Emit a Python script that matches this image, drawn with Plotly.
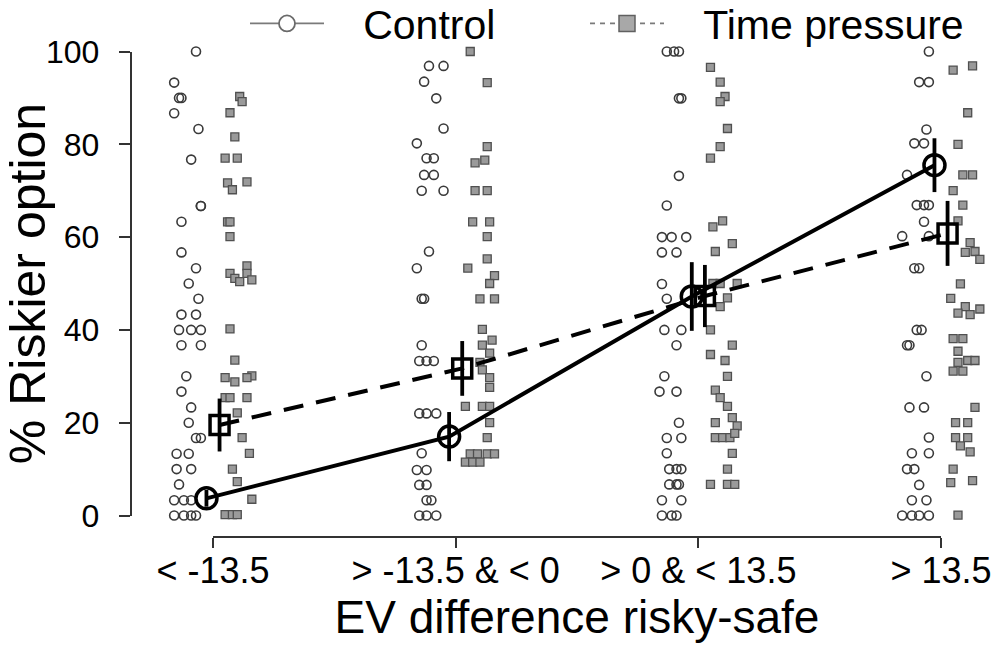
import plotly.graph_objects as go

categories = ["< -13.5", "> -13.5 & < 0", "> 0 & < 13.5", "> 13.5"]

# Individual participant values (% riskier choices) and horizontal jitter (category units)
ctrl_vals = [
    [100, 93.3, 90, 90, 86.7, 83.3, 76.7, 66.7, 66.7, 63.3, 56.7, 53.3, 50, 46.7, 43.3, 43.3,
     40, 40, 40, 36.7, 36.7, 30, 26.7, 23.3, 20, 16.7, 16.7, 13.3, 13.3, 10, 10, 6.7, 3.3, 3.3,
     3.3, 0, 0, 0, 0],
    [96.9, 96.9, 93.5, 89.9, 83.4, 80.2, 77, 77, 73.4, 73.4, 70, 70, 56.9, 53.3, 46.7, 46.7,
     36.7, 33.3, 33.3, 33.3, 22, 22, 22, 13.4, 9.8, 9.8, 6.6, 6.6, 3.3, 3.3, 0, 0, 0],
    [100, 100, 100, 89.9, 89.9, 73.2, 66.8, 60, 60, 60, 56.7, 56.7, 49.9, 46.7, 40, 40, 36.7,
     30, 26.7, 26.7, 20, 16.7, 16.7, 13.4, 10, 10, 10, 6.7, 6.7, 6.7, 3.3, 3.3, 0, 0, 0],
    [100, 93.4, 93.4, 83.2, 80.2, 80.2, 73.4, 66.9, 66.9, 66.9, 63.3, 60.2, 60.2, 53.3, 53.3,
     40, 40, 36.7, 36.7, 30, 23.3, 23.3, 16.8, 13.4, 13.4, 10, 10, 6.6, 3.3, 3.3, 0, 0, 0, 0],
]
ctrl_jit = [
    [-0.07, -0.16, -0.14, -0.13, -0.16, -0.06, -0.09, -0.05, -0.05, -0.13, -0.13, -0.07, -0.10,
     -0.06, -0.13, -0.07, -0.14, -0.09, -0.05, -0.13, -0.05, -0.11, -0.13, -0.09, -0.10, -0.07,
     -0.05, -0.15, -0.10, -0.15, -0.09, -0.14, -0.16, -0.12, -0.09, -0.16, -0.12, -0.07, -0.09],
    [-0.11, -0.05, -0.13, -0.08, -0.05, -0.16, -0.12, -0.09, -0.13, -0.09, -0.14, -0.05, -0.11,
     -0.16, -0.14, -0.13, -0.14, -0.15, -0.12, -0.09, -0.15, -0.12, -0.08, -0.14, -0.16, -0.12,
     -0.15, -0.12, -0.12, -0.10, -0.15, -0.12, -0.08],
    [-0.13, -0.10, -0.08, -0.08, -0.07, -0.08, -0.13, -0.15, -0.11, -0.05, -0.15, -0.09, -0.15,
     -0.13, -0.14, -0.07, -0.09, -0.14, -0.16, -0.09, -0.08, -0.13, -0.07, -0.13, -0.12, -0.09,
     -0.07, -0.12, -0.09, -0.08, -0.15, -0.07, -0.15, -0.11, -0.09],
    [-0.05, -0.09, -0.05, -0.06, -0.11, -0.07, -0.14, -0.10, -0.07, -0.05, -0.07, -0.16, -0.05,
     -0.11, -0.09, -0.10, -0.08, -0.14, -0.13, -0.06, -0.13, -0.07, -0.05, -0.12, -0.05, -0.14,
     -0.11, -0.09, -0.12, -0.06, -0.16, -0.12, -0.09, -0.05],
]
tp_vals = [
    [90.3, 89.2, 86.8, 81.6, 77, 77, 71.7, 70.2, 71.9, 63.3, 63.3, 60.1, 53.8, 52.2, 51.1,
     52.2, 50.8, 50.4, 40.2, 33.5, 30.1, 29.7, 28.8, 29.7, 25.4, 25.4, 25.4, 22.1, 16.8, 13.4,
     10, 7.3, 3.5, 0.2, 0.2, 0.2],
    [100, 93.3, 79.5, 76, 76.6, 70, 70, 63.3, 63.3, 60.1, 55.3, 53.3, 51.7, 50, 46.7, 46.7,
     40.1, 37.8, 36.7, 35, 33, 31.4, 29.7, 27.6, 23.5, 23.5, 23.5, 20, 16.8, 13.3, 13.3, 13.3,
     13.3, 11.5, 11.5, 11.5],
    [96.6, 93.4, 90.3, 89.2, 83.4, 79.5, 77, 63.5, 62.2, 58.6, 56.9, 50, 50, 50, 46.9, 45, 40,
     36.7, 34.7, 33.4, 30, 27, 25.4, 23.5, 20, 21.1, 19.3, 16.8, 16.8, 16.8, 17.7, 13.4, 10,
     6.7, 6.7, 6.7],
    [96, 96.9, 86.8, 80, 73.4, 73.4, 70, 66.9, 63.5, 58.8, 56.7, 56.9, 55.2, 49.9, 46.8, 45,
     43.6, 43.3, 44.5, 38.1, 38.1, 35.4, 33.4, 33.4, 33, 31.1, 31.1, 23.3, 20, 20, 16.8, 16.8,
     15, 13.7, 10, 7.1, 7.5, 0.1],
]
tp_jit = [
    [0.11, 0.12, 0.07, 0.09, 0.05, 0.10, 0.06, 0.08, 0.14, 0.06, 0.07, 0.07, 0.14, 0.07, 0.09,
     0.14, 0.16, 0.11, 0.07, 0.09, 0.16, 0.05, 0.09, 0.14, 0.05, 0.07, 0.14, 0.10, 0.12, 0.15,
     0.08, 0.10, 0.16, 0.05, 0.08, 0.10],
    [0.06, 0.13, 0.13, 0.08, 0.12, 0.08, 0.13, 0.07, 0.14, 0.13, 0.13, 0.05, 0.16, 0.14, 0.10,
     0.16, 0.11, 0.15, 0.11, 0.14, 0.10, 0.11, 0.14, 0.14, 0.04, 0.11, 0.14, 0.14, 0.13, 0.06,
     0.09, 0.13, 0.16, 0.04, 0.07, 0.10],
    [0.05, 0.09, 0.11, 0.09, 0.12, 0.09, 0.05, 0.10, 0.06, 0.14, 0.07, 0.06, 0.09, 0.16, 0.12,
     0.09, 0.05, 0.14, 0.05, 0.11, 0.12, 0.07, 0.09, 0.12, 0.07, 0.14, 0.16, 0.07, 0.10, 0.13,
     0.15, 0.14, 0.12, 0.05, 0.12, 0.15],
    [0.05, 0.13, 0.11, 0.07, 0.09, 0.13, 0.05, 0.09, 0.07, 0.12, 0.10, 0.14, 0.16, 0.08, 0.04,
     0.10, 0.07, 0.12, 0.16, 0.05, 0.09, 0.07, 0.11, 0.14, 0.07, 0.05, 0.09, 0.14, 0.06, 0.11,
     0.06, 0.11, 0.08, 0.12, 0.05, 0.04, 0.13, 0.07],
]

ctrl_mean = [3.7, 17.0, 47.2, 75.5]
ctrl_err = [1.8, 5.3, 7.4, 5.8]
tp_mean = [19.5, 31.7, 47.3, 60.8]
tp_err = [5.7, 5.9, 6.7, 7.0]

legend_names = ["Control", "Time pressure"]

FONT = "Liberation Sans, Arial, sans-serif"
W, H = 994, 648
dodge = 0.027
PAD = "\u00a0\u00a0\u00a0"  # visual gap between legend symbol and its label

fig = go.Figure()

# individual points
cx, cy, tx, ty = [], [], [], []
for i in range(4):
    cx += [i + 1 + j for j in ctrl_jit[i]]
    cy += ctrl_vals[i]
    tx += [i + 1 + j for j in tp_jit[i]]
    ty += tp_vals[i]

fig.add_trace(go.Scatter(x=cx, y=cy, mode="markers", showlegend=False, cliponaxis=False,
                         marker=dict(symbol="circle-open", size=9, color="#3a3a3a",
                                     line=dict(width=1.6, color="#3a3a3a"))))
fig.add_trace(go.Scatter(x=tx, y=ty, mode="markers", showlegend=False, cliponaxis=False,
                         marker=dict(symbol="square", size=8, color="#9a9a9a",
                                     line=dict(width=1.3, color="#505050"))))

xs = [1, 2, 3, 4]
fig.add_trace(go.Scatter(x=[v + dodge for v in xs], y=tp_mean, mode="lines+markers",
                         showlegend=False, cliponaxis=False,
                         line=dict(color="black", width=4, dash="20px,13px"),
                         marker=dict(symbol="square-open", size=19, color="black",
                                     line=dict(width=3.5, color="black")),
                         error_y=dict(type="data", array=tp_err, width=0, thickness=3.8,
                                      color="black")))
fig.add_trace(go.Scatter(x=[v - dodge for v in xs], y=ctrl_mean, mode="lines+markers",
                         showlegend=False, cliponaxis=False,
                         line=dict(color="black", width=4),
                         marker=dict(symbol="circle-open", size=21, color="black",
                                     line=dict(width=3.5, color="black")),
                         error_y=dict(type="data", array=ctrl_err, width=0, thickness=3.8,
                                      color="black")))

# legend-only entries (each in its own legend box)
fig.add_trace(go.Scatter(x=[None], y=[None], mode="lines+markers", name=PAD + legend_names[0],
                         legend="legend",
                         line=dict(color="#7a7a7a", width=1.8),
                         marker=dict(symbol="circle", size=20, color="white",
                                     line=dict(width=1.8, color="#6a6a6a"))))
fig.add_trace(go.Scatter(x=[None], y=[None], mode="lines+markers", name=PAD + legend_names[1],
                         legend="legend2",
                         line=dict(color="#7a7a7a", width=1.8, dash="5px,5px"),
                         marker=dict(symbol="square", size=20, color="#a8a8a8",
                                     line=dict(width=1.5, color="#606060"))))

# empty trace to host the visible R-style axes
fig.add_trace(go.Scatter(x=[], y=[], xaxis="x2", yaxis="y2", showlegend=False))

px0, px_per = 213.0, 242.67   # pixel position of category 1 and pixels per category
y0px, ypx_per = 515.5, 4.64   # pixel position of 0 % and pixels per %

legend_common = dict(orientation="h", xanchor="left", y=1.015, yanchor="top",
                     font=dict(size=41), itemwidth=74, bgcolor="rgba(0,0,0,0)")

fig.update_layout(
    width=W, height=H,
    margin=dict(l=0, r=0, t=0, b=0, autoexpand=False),
    paper_bgcolor="white", plot_bgcolor="rgba(0,0,0,0)",
    font=dict(family=FONT, color="black"),
    xaxis=dict(domain=[0, 1], range=[1 - px0 / px_per, 1 + (W - px0) / px_per],
               visible=False, fixedrange=True),
    yaxis=dict(domain=[0, 1], range=[(y0px - H) / ypx_per, y0px / ypx_per],
               visible=False, fixedrange=True),
    xaxis2=dict(domain=[px0 / W, (px0 + 3 * px_per) / W], range=[1, 4],
                anchor="free", position=(H - 537) / H,
                tickmode="array", tickvals=xs, ticktext=categories,
                showline=True, linecolor="#333", linewidth=1.5,
                ticks="outside", ticklen=10, tickwidth=1.5, tickcolor="#333",
                showgrid=False, zeroline=False, tickfont=dict(size=36),
                ticklabelstandoff=-8,
                title=dict(text="EV difference risky-safe", font=dict(size=46), standoff=8)),
    yaxis2=dict(domain=[(H - y0px) / H, (H - (y0px - 100 * ypx_per)) / H], range=[0, 100],
                anchor="free", position=130.5 / W,
                tickmode="array", tickvals=[0, 20, 40, 60, 80, 100],
                showline=True, linecolor="#333", linewidth=1.5,
                ticks="outside", ticklen=11, tickwidth=1.5, tickcolor="#333",
                showgrid=False, zeroline=False, tickfont=dict(size=32),
                ticklabelstandoff=13,
                title=dict(text="% Riskier option", font=dict(size=50), standoff=6)),
    legend=dict(x=245 / W, **legend_common),
    legend2=dict(x=585 / W, **legend_common),
)

fig.write_html("out.html")
